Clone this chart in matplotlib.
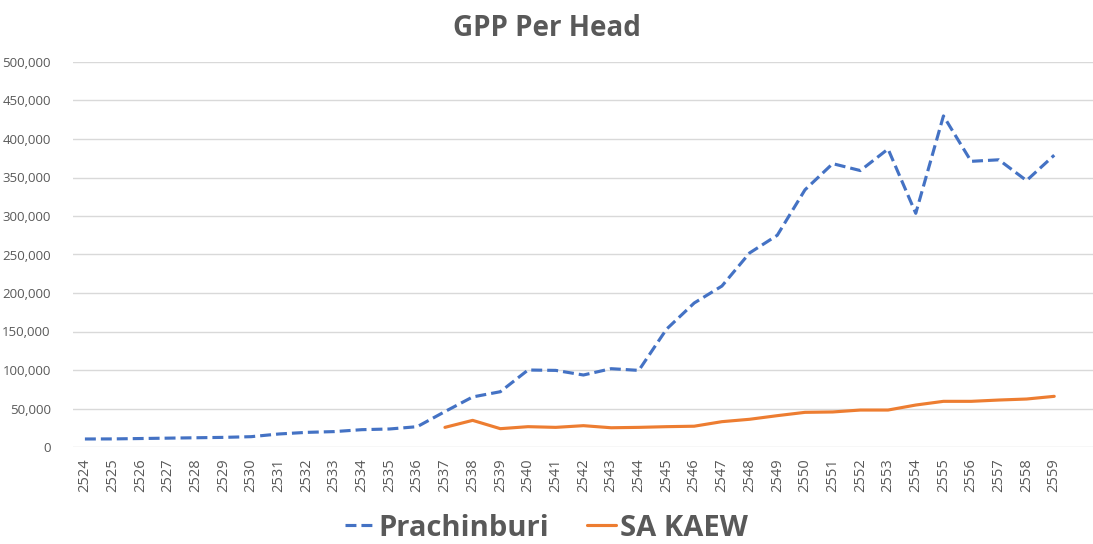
import matplotlib
matplotlib.use("Agg")
import matplotlib.pyplot as plt
import matplotlib.ticker as mticker

# ── Data ──
years = list(range(2524, 2560))
prachinburi = [
    10400, 10500, 11000, 11500, 12000, 12500, 13400, 16900, 19000, 20000,
    22500, 23400, 26400, 46000, 65000, 71800, 100000, 99500, 93500, 101700,
    99500, 153000, 187000, 209000, 252000, 275000, 334000, 368000, 359000, 387000,
    303500, 430000, 371000, 373000, 346000, 379000,
]
sa_kaew_years = list(range(2537, 2560))
sa_kaew = [
    25500, 34600, 23800, 26400, 25500, 27700, 25000, 25500, 26400, 27000,
    32900, 36000, 40700, 45000, 45500, 48000, 48000, 54500, 59300, 59300,
    61000, 62300, 65800,
]

C_BLUE = "#4472C4"
C_ORANGE = "#ED7D31"
C_TEXT = "#595959"
C_GRID = "#D9D9D9"

plt.rcParams.update({
    "font.family": ["Open Sans", "DejaVu Sans"],
})

fig = plt.figure(figsize=(10.93, 5.44), dpi=100)
ax = fig.add_axes([73 / 1093, 97 / 544, 1 - 73 / 1093, 385 / 544])

x_all = list(range(len(years)))
x_sk = [years.index(y) for y in sa_kaew_years]

ax.plot(x_all, prachinburi, color=C_BLUE, lw=2.25, dashes=(3.5, 1.6),
        label="Prachinburi", solid_capstyle="butt", zorder=3)
ax.plot(x_sk, sa_kaew, color=C_ORANGE, lw=2.25, label="SA KAEW",
        solid_capstyle="round", zorder=3)

ax.set_xlim(-0.43, 36.4)
ax.set_ylim(0, 500000)
ax.set_xticks(x_all)
ax.set_xticklabels([str(y) for y in years], rotation=90, fontsize=10.5, color=C_TEXT)
ax.yaxis.set_major_locator(mticker.MultipleLocator(50000))
ax.yaxis.set_major_formatter(mticker.FuncFormatter(lambda v, p: f"{int(v):,}"))
for lbl in ax.get_yticklabels():
    lbl.set_fontsize(9.5)
    lbl.set_color(C_TEXT)
ax.tick_params(axis="both", length=0, pad=8)
ax.tick_params(axis="y", pad=16)

ax.grid(True, axis="y", color=C_GRID, lw=1.0)
ax.set_axisbelow(True)
for s in ["top", "right", "left", "bottom"]:
    ax.spines[s].set_visible(False)

fig.text(0.5, 1 - 28 / 544, "GPP Per Head", ha="center", va="center",
         fontsize=20, fontweight="bold", color=C_TEXT)

leg = fig.legend(loc="center", bbox_to_anchor=(0.5, 1 - 528 / 544), ncol=2, frameon=False,
                 prop={"size": 21, "weight": "bold"}, handlelength=1.0,
                 columnspacing=1.3, handletextpad=0.15)
for t in leg.get_texts():
    t.set_color(C_TEXT)

fig.savefig("out.png", dpi=100)
